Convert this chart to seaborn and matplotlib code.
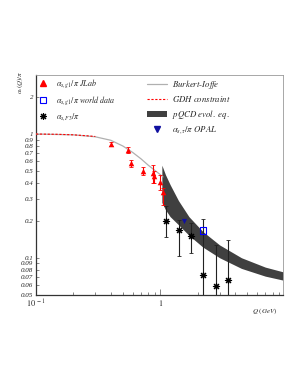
import numpy as np
import pandas as pd
import matplotlib
matplotlib.use('Agg')
import matplotlib.pyplot as plt
import seaborn as sns
from matplotlib.ticker import FixedLocator, NullFormatter
from matplotlib.lines import Line2D
from matplotlib.patches import Patch

# JLab alpha_s,g1 / pi
jlab_q = [0.40, 0.545, 0.58, 0.72, 0.87, 0.89, 0.99, 1.045]
jlab_a = [0.83, 0.74, 0.58, 0.505, 0.48, 0.455, 0.41, 0.343]
jlab_up = [0.03, 0.04, 0.04, 0.04, 0.08, 0.05, 0.06, 0.024]
jlab_dn = [0.03, 0.04, 0.04, 0.04, 0.08, 0.05, 0.06, 0.075]

# world data
world_q = [2.21]
world_a = [0.166]

# alpha_s,F3 / pi
f3_q = [1.11, 1.41, 1.77, 2.21, 2.79, 3.51]
f3_a = [0.20, 0.168, 0.149, 0.072, 0.059, 0.066]
f3_up = [0.06, 0.035, 0.041, 0.134, 0.068, 0.074]
f3_dn = [0.052, 0.064, 0.039, 0.06, 0.045, 0.05]

# OPAL tau
opal_q = [1.56]
opal_a = [0.199]

# Burkert-Ioffe
bi_q = [0.1, 0.2, 0.3, 0.4, 0.5, 0.6, 0.7, 0.8, 0.9, 1.0, 1.05]
bi_a = [1.0, 0.985, 0.95, 0.89, 0.80, 0.71, 0.63, 0.56, 0.51, 0.47, 0.45]

# GDH constraint
gdh_q = [0.1, 0.15, 0.2, 0.25, 0.3]
gdh_a = [1.0, 0.995, 0.985, 0.97, 0.955]

# pQCD band
band_q = [1.03, 1.1, 1.2, 1.4, 1.7, 2.2, 3.0, 4.5, 7.0, 9.7]
band_hi = [0.56, 0.47, 0.39, 0.29, 0.215, 0.163, 0.127, 0.10, 0.084, 0.077]
band_lo = [0.28, 0.245, 0.215, 0.185, 0.152, 0.122, 0.10, 0.082, 0.071, 0.066]

sns.set_style('ticks')
plt.rcParams['font.family'] = ['Liberation Serif', 'DejaVu Serif']
plt.rcParams['mathtext.fontset'] = 'stix'

fig = plt.figure(figsize=(3, 3.88), dpi=100)
ax = fig.add_axes([0.12, 0.2397, 0.823, 0.567])
ax.set_xscale('log')
ax.set_yscale('log')

ax.fill_between(band_q, band_lo, band_hi, color='#404040', lw=0, zorder=2)

sns.lineplot(x=bi_q, y=bi_a, color='#b0b0b0', lw=0.9, ax=ax, zorder=3)
sns.lineplot(x=gdh_q, y=gdh_a, color='red', lw=0.8, ls=(0, (2, 1.5)), ax=ax, zorder=4)

ax.errorbar(f3_q, f3_a, yerr=[f3_dn, f3_up], fmt='none', ecolor='#222222',
            elinewidth=0.8, capsize=1.5, capthick=0.6, zorder=5)
sns.scatterplot(x=f3_q, y=f3_a, marker=(8, 2, 0), color='black', s=20,
                linewidth=0.8, ax=ax, zorder=6)

ax.errorbar(jlab_q, jlab_a, yerr=[jlab_dn, jlab_up], fmt='none', ecolor='red',
            elinewidth=0.8, capsize=1.5, capthick=0.6, zorder=5)
sns.scatterplot(x=jlab_q, y=jlab_a, marker='^', color='red', s=16,
                linewidth=0, ax=ax, zorder=6)

sns.scatterplot(x=world_q, y=world_a, marker='s', facecolor='none',
                edgecolor='blue', s=20, linewidth=0.8, ax=ax, zorder=7)
sns.scatterplot(x=opal_q, y=opal_a, marker='v', color='#1010a0', s=14,
                linewidth=0, ax=ax, zorder=7)

ax.set_xlim(0.1, 9.7)
ax.set_ylim(0.05, 3.0)

# ticks
ax.xaxis.set_major_locator(FixedLocator([0.1, 1]))
ax.set_xticklabels([r'$\mathit{10}^{\ -1}$', r'$\mathit{1}$'], fontsize=6)
ax.xaxis.set_minor_locator(FixedLocator([0.2, 0.3, 0.4, 0.5, 0.6, 0.7, 0.8, 0.9,
                                         2, 3, 4, 5, 6, 7, 8, 9]))
ax.xaxis.set_minor_formatter(NullFormatter())

yt = [0.05, 0.06, 0.07, 0.08, 0.09, 0.1, 0.2, 0.3, 0.4, 0.5, 0.6, 0.7, 0.8, 0.9, 1, 2]
ylab = ['0.05', '0.06', '0.07', '0.08', '0.09', '0.1', '0.2', '0.3', '0.4', '0.5',
        '0.6', '0.7', '0.8', '0.9', '1', '2']
ax.yaxis.set_major_locator(FixedLocator(yt))
ax.set_yticklabels(ylab, fontsize=5, style='italic')
ax.yaxis.set_minor_formatter(NullFormatter())
ax.yaxis.set_minor_locator(FixedLocator([]))
ax.tick_params(axis='both', which='both', direction='in', width=0.5, color='#555555', pad=2)
ax.tick_params(axis='y', which='major', length=2)
ax.tick_params(axis='x', which='major', length=4)
ax.tick_params(axis='x', which='minor', length=2)

for s in ['left', 'bottom']:
    ax.spines[s].set_color('#333333')
    ax.spines[s].set_linewidth(0.9)
for s in ['top', 'right']:
    ax.spines[s].set_color('#999999')
    ax.spines[s].set_linewidth(0.6)

fig.text(0.883, 0.198, r'$\mathit{Q\ (GeV)}$', fontsize=5, ha='center', va='center')
fig.text(0.067, 0.787, r'$\alpha_s(Q)/\pi$', fontsize=5, rotation=90,
         ha='center', va='center', color='#333333')

# legends
h1 = [Line2D([], [], marker='^', color='red', ls='none', markersize=5),
      Line2D([], [], marker='s', mfc='none', mec='blue', ls='none', markersize=5, mew=0.8),
      Line2D([], [], marker=(8, 2, 0), color='black', ls='none', markersize=5, mew=0.8)]
l1 = [r'$\alpha_{s,g1}/\pi$ $\mathit{JLab}$',
      r'$\alpha_{s,g1}/\pi$ $\mathit{world\ data}$',
      r'$\alpha_{s,F3}/\pi$']
leg1 = ax.legend(h1, l1, loc='upper left', bbox_to_anchor=(0.0, 1.0), frameon=False,
                 fontsize=5.8, handlelength=1.2, handletextpad=1.0, labelspacing=0.5,
                 borderaxespad=0.1, borderpad=0.2)
ax.add_artist(leg1)

h2 = [Line2D([], [], color='#b0b0b0', lw=0.9),
      Line2D([], [], color='red', lw=0.8, ls=(0, (2, 1.5))),
      Patch(facecolor='#404040', edgecolor='none'),
      Line2D([], [], marker='v', color='#1010a0', ls='none', markersize=5)]
l2 = [r'$\mathit{Burkert\text{-}Ioffe}$', r'$\mathit{GDH\ constraint}$',
      r'$\mathit{pQCD\ evol.\ eq.}$', r'$\alpha_{s,\tau}/\pi$ $\mathit{OPAL}$']
ax.legend(h2, l2, loc='upper left', bbox_to_anchor=(0.44, 1.0), frameon=False,
          fontsize=6.3, handlelength=2.2, handletextpad=0.6, labelspacing=0.4,
          borderaxespad=0.1, borderpad=0.2)

fig.savefig('out.png', dpi=100)
